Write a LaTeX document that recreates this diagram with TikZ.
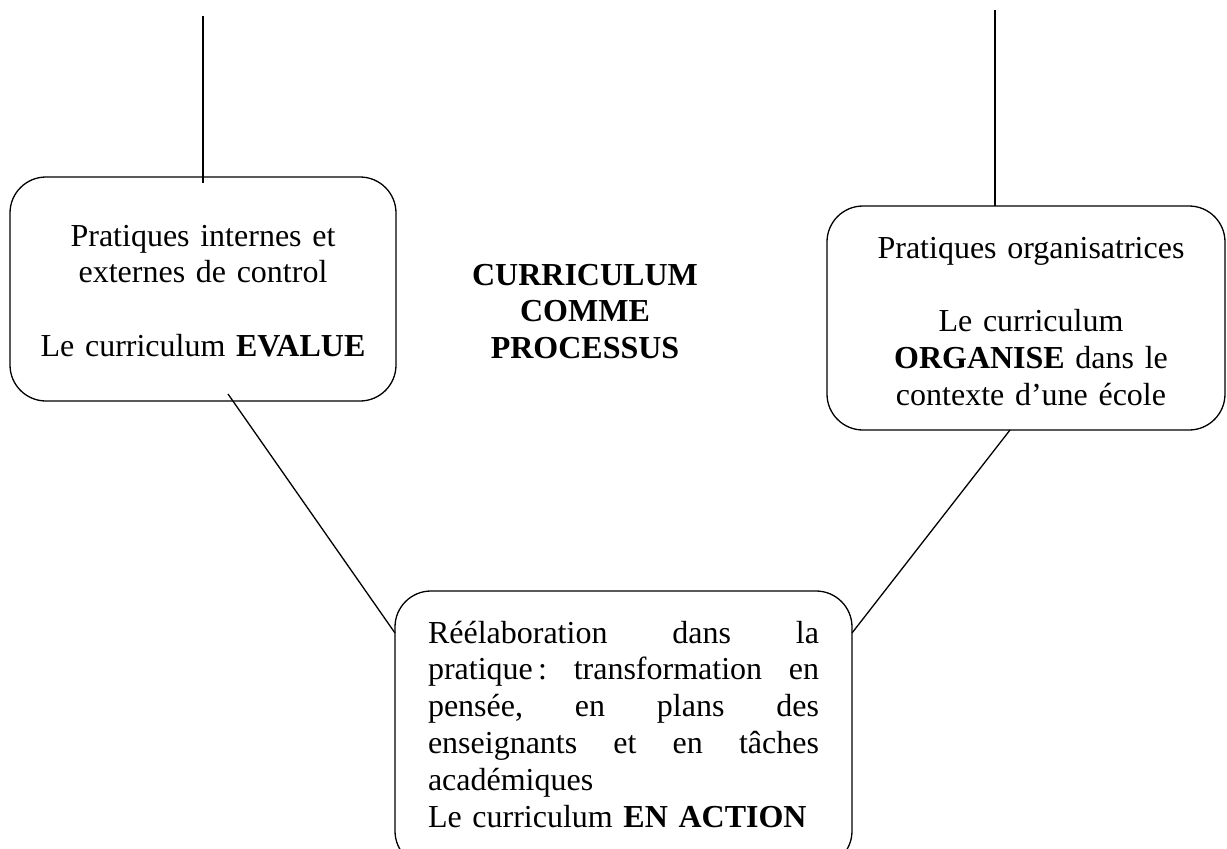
\documentclass[tikz,border=0pt]{standalone}
\usepackage{fontspec}
\setmainfont{Liberation Serif}
\begin{document}
\begin{tikzpicture}[x=1pt,y=-1pt,
  boxstyle/.style={draw, line width=1.3pt, rounded corners=36pt, inner sep=0pt, outer sep=0pt},
  txt/.style={inner sep=0pt, outer sep=0pt, font=\fontsize{32}{36.8}\selectfont},
  conn/.style={line width=1.3pt}]
\useasboundingbox (0,0) rectangle (1227,849);
\fill[white] (0,0) rectangle (1227,849);
% boxes
\node[boxstyle, minimum width=386pt, minimum height=224pt] (lbox) at (203,289) {};
\node[boxstyle, minimum width=398pt, minimum height=224pt] (rbox) at (1026,318) {};
\node[boxstyle, minimum width=457pt, minimum height=276pt] (bbox) at (623.5,729) {};
% texts
\node[txt, anchor=base, text width=370pt, align=center] (ltext) at (203,246)
  {Pratiques internes et\\externes de control\\[\baselineskip]Le curriculum \textbf{EVALUE}};
\node[txt, anchor=base, text width=380pt, align=center] (rtext) at (1031,258)
  {Pratiques organisatrices\\[\baselineskip]Le curriculum\\\textbf{ORGANISE} dans le\\contexte d’une école};
\node[txt, anchor=base, text width=260pt, align=center, font=\fontsize{32}{36.8}\selectfont\bfseries] (ctext) at (585,285)
  {CURRICULUM\\COMME\\PROCESSUS};
\node[txt, anchor=base west, text width=391pt, align=left] (btext) at (428,643)
  {Réélaboration\hfill dans\hfill la\\
   pratique\,:\hfill transformation\hfill en\\
   pensée,\hfill en\hfill plans\hfill des\\
   enseignants\hfill et\hfill en\hfill tâches\\
   académiques\\
   Le curriculum \textbf{EN ACTION}};
% free ends of the vertical lines
\coordinate (ltop) at (203,16);
\coordinate (rtop) at (995,10);
% connectors
\draw[conn] (ltop) -- ([yshift=-6pt]ltop |- lbox.north);
\draw[conn] (rtop) -- (rtop |- rbox.north);
\draw[conn] ([xshift=25pt,yshift=7pt]lbox.south) -- ([yshift=-42pt]bbox.north west);
\draw[conn] ([xshift=-16pt]rbox.south) -- ([yshift=-42pt]bbox.north east);
\end{tikzpicture}
\end{document}
